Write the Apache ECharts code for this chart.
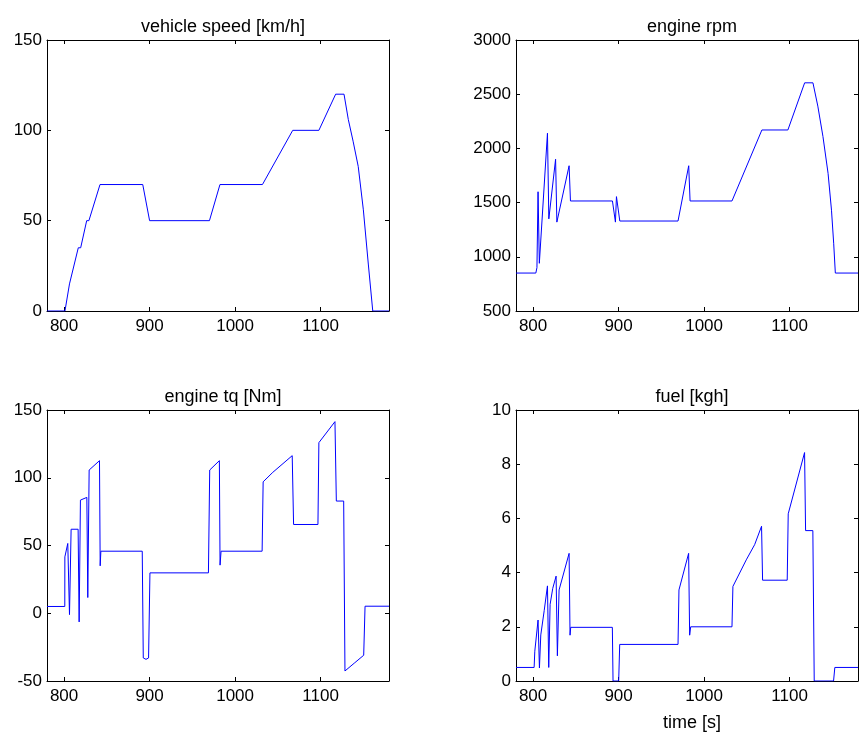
<!DOCTYPE html>
<html>
<head>
<meta charset="utf-8">
<script src="https://cdn.jsdelivr.net/npm/echarts@6/dist/echarts.min.js"></script>
<style>
  html, body { margin: 0; padding: 0; background: #fff; }
  #main { width: 862px; height: 734px; }
</style>
</head>
<body>
<div id="main"></div>
<script>
// time ticks shared by all panels
var timeTicks = [800, 900, 1000, 1100];

// vehicle speed [km/h]
var speedT = [780, 801, 806.3, 808, 816.6, 819.4, 826.4, 829, 842, 892, 900, 970, 982.3, 1032, 1067.4, 1098, 1117.6, 1127.4, 1132.4, 1138, 1144, 1150, 1155.8, 1161, 1180];
var speedV = [0, 0, 15, 15, 35, 35, 50, 50, 70, 70, 50, 50, 70, 70, 100, 100, 120, 120, 106, 94, 80, 56, 26, 0, 0];

// engine rpm
var rpmT = [780, 803.2, 804.5, 805.8, 807.3, 808.4, 816.8, 818.4, 819.2, 826.3, 827.8, 842.1, 843.7, 892.8, 896.3, 897.5, 901.4, 969.5, 982, 983.6, 1032.6, 1067.6, 1098, 1117.6, 1127.3, 1133, 1139, 1145, 1149, 1151.6, 1153.5, 1180];
var rpmV = [850, 850, 900, 1600, 940, 940, 2140, 1350, 1360, 1900, 1320, 1840, 1515, 1515, 1320, 1555, 1330, 1330, 1840, 1515, 1515, 2170, 2170, 2605, 2605, 2390, 2110, 1770, 1430, 1120, 850, 850];

// engine tq [Nm]
var tqT = [780, 800.8, 800.9, 802, 804.3, 805.1, 806.3, 808.2, 816.4, 817.6, 819.1, 826.6, 827.7, 829.3, 841.4, 842.2, 843, 891.4, 892.6, 895.8, 898.8, 900.4, 968.8, 970.3, 981.6, 982.4, 983.6, 1031.6, 1032.8, 1044.1, 1066.8, 1068.4, 1096.9, 1098, 1116.8, 1118.4, 1127, 1128.5, 1140, 1150.4, 1152, 1180];
var tqV = [5, 5, 41.6, 42.9, 51.5, 51.5, -1, 62, 62, -6.4, 83.5, 85.5, 11.6, 105.7, 112.6, 35, 45.8, 45.8, -33, -34, -33, 29.8, 29.8, 105.7, 112.6, 35.5, 45.8, 45.8, 97, 104, 116.3, 65.5, 65.5, 125.9, 141.4, 82.8, 82.8, -42.6, -36.5, -31, 5.2, 5.2];

// fuel [kgh]
var fuelT = [780, 801.2, 802, 803.5, 805.8, 807.4, 809, 813, 816.8, 818.3, 819.9, 823, 826.9, 828.4, 830.4, 842.1, 843.2, 844, 892.7, 893.5, 900.1, 901.3, 969.5, 970.6, 981.9, 983.1, 984.3, 1032.6, 1033.7, 1049.3, 1059.1, 1067.2, 1068.4, 1097.2, 1098.4, 1117.5, 1118.7, 1127.2, 1128.8, 1151.4, 1152.9, 1180];
var fuelV = [0.5, 0.5, 1.1, 1.12, 2.25, 0.48, 1.7, 2.6, 3.51, 0.5, 2.83, 3.42, 3.87, 0.93, 3.36, 4.71, 1.69, 1.98, 1.98, 0, 0, 1.35, 1.35, 3.36, 4.71, 1.69, 2.0, 2.0, 3.49, 4.47, 5.03, 5.71, 3.72, 3.72, 6.17, 8.43, 5.55, 5.55, 0, 0, 0.5, 0.5];

var titles = ['vehicle speed [km/h]', 'engine rpm', 'engine tq [Nm]', 'fuel [kgh]'];
var yRanges = [[0, 150, 50], [500, 3000, 500], [-50, 150, 50], [0, 10, 2]];
var seriesData = [[speedT, speedV], [rpmT, rpmV], [tqT, tqV], [fuelT, fuelV]];

var font = 'Liberation Sans, Arial, Helvetica, sans-serif';
var fontSize = 17;

// panel positions
var panels = [
  { left: 47, top: 40 },
  { left: 516, top: 40 },
  { left: 47, top: 410 },
  { left: 516, top: 410 }
];
var pw = 342, ph = 271;

function zip(t, v) {
  return t.map(function (x, i) { return [x, v[i]]; });
}
// plain numbers, no thousands separator
function plain(v) { return String(v); }

var grids = [], xAxes = [], yAxes = [], series = [], titleList = [];
var lineStyle = { color: '#000', width: 1 };

panels.forEach(function (p, i) {
  grids.push({ left: p.left, top: p.top, width: pw, height: ph, containLabel: false });
  // bottom axis with labels
  xAxes.push({
    type: 'value', gridIndex: i, min: 780, max: 1180, position: 'bottom',
    axisLine: { show: true, onZero: false, lineStyle: lineStyle },
    axisTick: { show: true, inside: true, length: 4, customValues: timeTicks, lineStyle: lineStyle },
    axisLabel: { show: true, customValues: timeTicks, formatter: plain, color: '#000', fontSize: fontSize, fontFamily: font, margin: 7 },
    splitLine: { show: false }
  });
  // top mirror
  xAxes.push({
    type: 'value', gridIndex: i, min: 780, max: 1180, position: 'top',
    axisLine: { show: true, onZero: false, lineStyle: lineStyle },
    axisTick: { show: true, inside: true, length: 4, customValues: timeTicks, lineStyle: lineStyle },
    axisLabel: { show: false },
    splitLine: { show: false }
  });
  var r = yRanges[i];
  yAxes.push({
    type: 'value', gridIndex: i, min: r[0], max: r[1], interval: r[2], position: 'left',
    axisLine: { show: true, onZero: false, lineStyle: lineStyle },
    axisTick: { show: true, inside: true, length: 4, lineStyle: lineStyle },
    axisLabel: { show: true, formatter: plain, color: '#000', fontSize: fontSize, fontFamily: font, margin: 5 },
    splitLine: { show: false }
  });
  yAxes.push({
    type: 'value', gridIndex: i, min: r[0], max: r[1], interval: r[2], position: 'right',
    axisLine: { show: true, onZero: false, lineStyle: lineStyle },
    axisTick: { show: true, inside: true, length: 4, lineStyle: lineStyle },
    axisLabel: { show: false },
    splitLine: { show: false }
  });
  series.push({
    type: 'line', xAxisIndex: i * 2, yAxisIndex: i * 2,
    data: zip(seriesData[i][0], seriesData[i][1]),
    showSymbol: false, symbol: 'none',
    lineStyle: { color: '#0000ff', width: 1 },
    clip: true
  });
  titleList.push({
    text: titles[i], left: p.left + pw / 2, top: p.top - 27, textAlign: 'center',
    textStyle: { color: '#000', fontSize: 18, fontWeight: 'normal', fontFamily: font }
  });
});

titleList.push({
  text: 'time [s]', left: 516 + pw / 2, top: 709, textAlign: 'center',
  textStyle: { color: '#000', fontSize: 18, fontWeight: 'normal', fontFamily: font }
});

var chart = echarts.init(document.getElementById('main'));
chart.setOption({
  animation: false,
  backgroundColor: '#fff',
  title: titleList,
  grid: grids,
  xAxis: xAxes,
  yAxis: yAxes,
  series: series
});
</script>
</body>
</html>
